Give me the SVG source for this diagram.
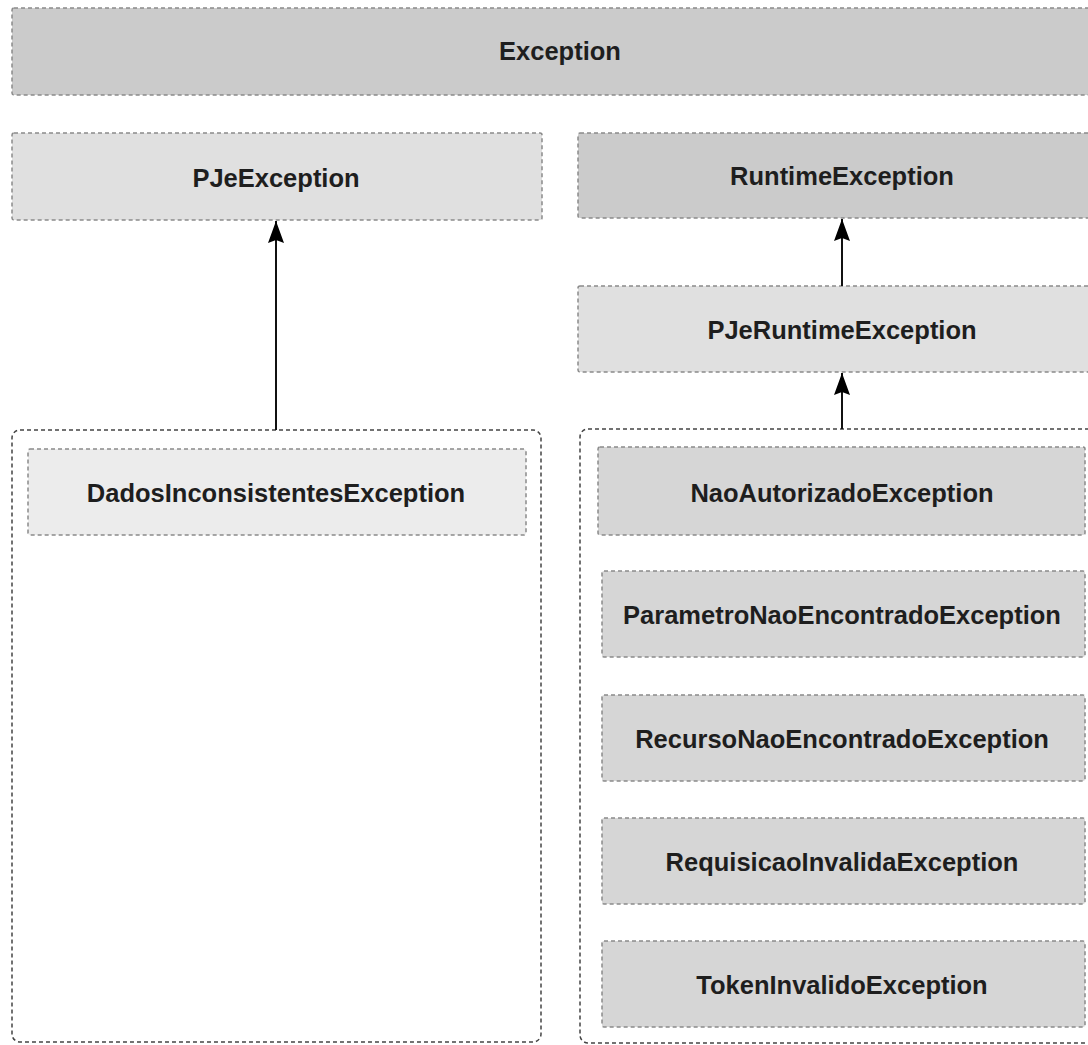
<svg xmlns="http://www.w3.org/2000/svg" width="1088" height="1045" viewBox="0 0 1088 1045">
<style>
.node{stroke:#8a8a8a;stroke-width:1.5;stroke-dasharray:4 3;}
.grp{fill:#ffffff;stroke:#444;stroke-width:1.5;stroke-dasharray:4 3;}
.lbl{font-family:"Liberation Sans",Arial,sans-serif;font-weight:bold;font-size:25.5px;fill:#1e1e1e;text-anchor:middle;dominant-baseline:central;}
.dark{fill:#cbcbcb;}
.mid{fill:#d6d6d6;}
.light{fill:#e0e0e0;}
.lighter{fill:#ececec;}
.edge{stroke:#111;stroke-width:2;fill:none;}
</style>
<defs>
<marker id="arr" viewBox="0 0 22 16" refX="22" refY="8" markerWidth="22" markerHeight="16" markerUnits="userSpaceOnUse" orient="auto">
<path d="M0,0 L22,8 L0,16 L3,8 Z" fill="#000"/>
</marker>
</defs>
<rect width="1088" height="1045" fill="#ffffff"/>
<g id="group-left"><rect class="grp" x="12" y="430" width="529" height="612" rx="8"/></g>
<g id="group-right"><rect class="grp" x="580" y="429" width="520" height="614" rx="8"/></g>
<g id="Exception"><rect class="node dark" x="12" y="8" width="1090" height="87" rx="2"/><text class="lbl" x="560" y="51">Exception</text></g>
<g id="PJeException"><rect class="node light" x="12" y="133" width="530" height="87" rx="2"/><text class="lbl" x="276" y="178">PJeException</text></g>
<g id="RuntimeException"><rect class="node dark" x="578" y="133" width="520" height="85" rx="2"/><text class="lbl" x="842" y="176">RuntimeException</text></g>
<g id="PJeRuntimeException"><rect class="node light" x="578" y="286" width="520" height="86" rx="2"/><text class="lbl" x="842" y="330">PJeRuntimeException</text></g>
<g id="DadosInconsistentesException"><rect class="node lighter" x="28" y="449" width="498" height="86" rx="2"/><text class="lbl" x="276" y="493">DadosInconsistentesException</text></g>
<g id="NaoAutorizadoException"><rect class="node mid" x="598" y="447" width="487" height="88" rx="2"/><text class="lbl" x="842" y="493">NaoAutorizadoException</text></g>
<g id="ParametroNaoEncontradoException"><rect class="node mid" x="602" y="571" width="483" height="86" rx="2"/><text class="lbl" x="842" y="615">ParametroNaoEncontradoException</text></g>
<g id="RecursoNaoEncontradoException"><rect class="node mid" x="602" y="695" width="483" height="86" rx="2"/><text class="lbl" x="842" y="739">RecursoNaoEncontradoException</text></g>
<g id="RequisicaoInvalidaException"><rect class="node mid" x="602" y="818" width="483" height="86" rx="2"/><text class="lbl" x="842" y="862">RequisicaoInvalidaException</text></g>
<g id="TokenInvalidoException"><rect class="node mid" x="602" y="941" width="483" height="86" rx="2"/><text class="lbl" x="842" y="985">TokenInvalidoException</text></g>
<g id="connectors">
<path class="edge" d="M276,430 L276,221" stroke="#666" marker-end="url(#arr)"/>
<path class="edge" d="M842,286 L842,219" marker-end="url(#arr)"/>
<path class="edge" d="M842,429 L842,373" marker-end="url(#arr)"/>
</g>
</svg>
